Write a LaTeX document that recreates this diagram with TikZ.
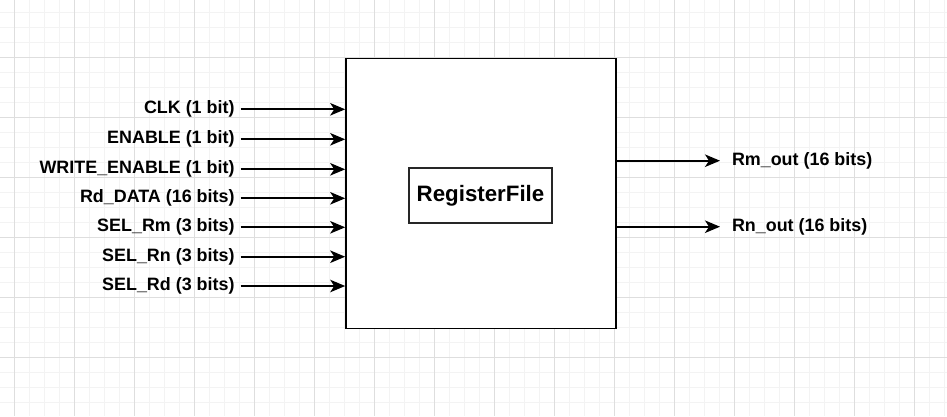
\documentclass[tikz,border=0pt]{standalone}
\usepackage{fontspec}
\setmainfont{Liberation Sans}
\usetikzlibrary{arrows.meta,positioning}
\definecolor{gridmajor}{HTML}{DEDEDE}
\definecolor{gridminor}{HTML}{F3F3F3}
\tikzset{
  rf grid minor/.style={draw=gridminor,line width=1pt},
  rf grid major/.style={draw=gridmajor,line width=1pt},
  rf block/.style={draw=black,fill=white,line width=1.6pt,minimum width=270pt,minimum height=270pt,inner sep=0pt},
  rf core/.style={draw=black!85,fill=white,line width=1.5pt,minimum width=143pt,minimum height=55pt,inner sep=0pt,font=\fontsize{22.3}{26}\selectfont\bfseries},
  rf in/.style={anchor=east,inner xsep=3pt,outer xsep=3pt,font=\fontsize{17.9}{21}\selectfont\bfseries},
  rf out/.style={anchor=west,inner xsep=6pt,outer xsep=6pt,font=\fontsize{17.9}{21}\selectfont\bfseries},
  rf arrow/.style={line width=1.7pt,-{Stealth[length=15pt,width=12.5pt,inset=4pt]}}
}

\begin{document}
\begin{tikzpicture}[x=1pt,y=-1pt]
  \useasboundingbox (0,0) rectangle (947,416);
  % background grid
  \foreach \x in {14,29,...,944}{\draw[rf grid minor] (\x,0)--(\x,416);}
  \foreach \y in {12,27,...,402}{\draw[rf grid minor] (0,\y)--(947,\y);}
  \foreach \x in {14,74,...,914}{\draw[rf grid major] (\x,0)--(\x,416);}
  \foreach \y in {57,117,...,357}{\draw[rf grid major] (0,\y)--(947,\y);}
  % register file block
  \node[rf block] (rf) at (481,193.4) {};
  \node[rf core] (core) at (480.5,195.5) {RegisterFile};
  % inputs
  \foreach \lbl/\txt/\y in {clk/CLK (1 bit)/109.3,en/ENABLE (1 bit)/139.3,
      wen/WRITE\_ENABLE (1 bit)/169.3,rddata/Rd\_DATA (16 bits)/198.3,
      selrm/SEL\_Rm (3 bits)/227.3,selrn/SEL\_Rn (3 bits)/256.7,selrd/SEL\_Rd (3 bits)/286}{
    \node[rf in] (\lbl) at (240.5,\y) {\txt};
    \draw[rf arrow] (\lbl.east) -- (\lbl.east -| rf.west);
  }
  % outputs
  \node[rf out] (rmout) at (720,160.7) {Rm\_out (16 bits)};
  \node[rf out] (rnout) at (720,226.7) {Rn\_out (16 bits)};
  \draw[rf arrow] (rf.east |- rmout.west) -- (rmout.west);
  \draw[rf arrow] (rf.east |- rnout.west) -- (rnout.west);
\end{tikzpicture}
\end{document}
